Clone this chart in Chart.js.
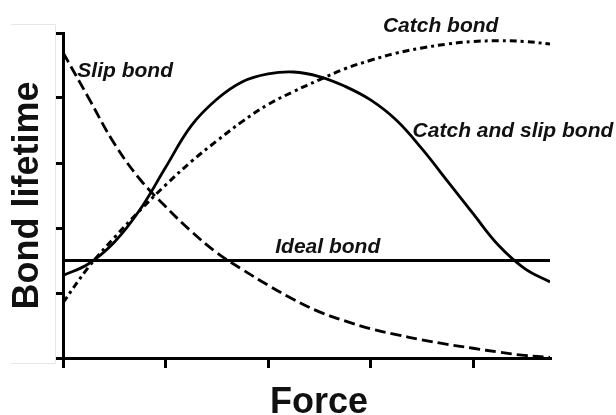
<!DOCTYPE html>
<html>
<head>
<meta charset="utf-8">
<script src="https://cdn.jsdelivr.net/npm/chart.js@4.4.1/dist/chart.umd.min.js"></script>
<style>
  html, body { margin: 0; padding: 0; background: #fff; }
  #wrap { width: 616px; height: 415px; }
</style>
</head>
<body>
<div id="wrap"><canvas id="myChart" width="616" height="415"></canvas></div>
<script>
// force values (x)
const force = [0, 0.25, 0.5, 0.75, 1, 1.25, 1.5, 1.75, 2, 2.25, 2.5, 2.75, 3, 3.25, 3.5, 3.75, 4, 4.25, 4.5, 4.75];

const slipBond = [4.7, 4.0, 3.3, 2.75, 2.33, 1.95, 1.62, 1.36, 1.12, 0.9, 0.71, 0.57, 0.45, 0.36, 0.28, 0.21, 0.15, 0.09, 0.04, 0.01];
const catchSlipBond = [1.27, 1.45, 1.78, 2.28, 2.93, 3.57, 3.98, 4.25, 4.37, 4.4, 4.33, 4.18, 3.97, 3.66, 3.22, 2.72, 2.22, 1.73, 1.38, 1.17];
const catchBond = [0.85, 1.4, 1.85, 2.27, 2.66, 3.02, 3.34, 3.64, 3.9, 4.1, 4.28, 4.45, 4.58, 4.69, 4.77, 4.83, 4.87, 4.88, 4.87, 4.83];
const idealBond = [1.5, 1.5];
const idealForce = [0, 4.75];

const xTicks = [0, 1, 2, 3, 4];
const yTicks = [0, 1, 2, 3, 4, 5];

// curve labels, anchored in data units (left edge, baseline)
const labelText = ['Slip bond', 'Catch bond', 'Catch and slip bond', 'Ideal bond'];
const labelX = [0.14, 3.12, 3.41, 2.07];
const labelY = [4.32, 5.02, 3.4, 1.62];

function pts(xs, ys) {
  return xs.map((x, i) => ({ x: x, y: ys[i] }));
}

const textPlugin = {
  id: 'curveText',
  beforeDraw(chart) {
    // faint frame left from the source image
    const c = chart.ctx;
    c.save();
    c.strokeStyle = '#e6e6e6';
    c.lineWidth = 1;
    c.beginPath();
    c.moveTo(11, 24.5); c.lineTo(55.5, 24.5); c.lineTo(55.5, 363.5); c.lineTo(11, 363.5);
    c.stroke();
    c.restore();
  },
  afterDraw(chart) {
    const c = chart.ctx;
    const xs = chart.scales.x, ys = chart.scales.y;
    c.save();
    c.fillStyle = '#111';
    c.textBaseline = 'alphabetic';
    c.textAlign = 'left';
    c.font = 'italic bold 21px "Liberation Sans", Arial, sans-serif';
    labelText.forEach((t, i) => {
      c.fillText(t, xs.getPixelForValue(labelX[i]), ys.getPixelForValue(labelY[i]));
    });
    c.font = 'bold 36px "Liberation Sans", Arial, sans-serif';
    c.textAlign = 'center';
    c.fillText('Force', 319, 413);
    c.restore();
  }
};

const ctx = document.getElementById('myChart').getContext('2d');

const chart_config = {
  type: 'line',
  data: {
    datasets: [
      {
        label: 'Slip bond',
        data: pts(force, slipBond),
        borderColor: '#000',
        borderWidth: 2.8,
        borderDash: [11, 5],
        tension: 0.4
      },
      {
        label: 'Catch and slip bond',
        data: pts(force, catchSlipBond),
        borderColor: '#000',
        borderWidth: 2.8,
        tension: 0.4
      },
      {
        label: 'Catch bond',
        data: pts(force, catchBond),
        borderColor: '#000',
        borderWidth: 3,
        borderDash: [7, 4, 3, 4],
        tension: 0.4
      },
      {
        label: 'Ideal bond',
        data: pts(idealForce, idealBond),
        borderColor: '#000',
        borderWidth: 2.8
      }
    ]
  },
  options: {
    responsive: false,
    animation: false,
    layout: { padding: { left: 0, top: 33, right: 66, bottom: 0 } },
    elements: { point: { radius: 0 } },
    plugins: {
      legend: { display: false },
      tooltip: { enabled: false }
    },
    scales: {
      x: {
        type: 'linear',
        min: 0,
        max: 4.75,
        afterFit(scale) { scale.height = 57; },
        afterBuildTicks(scale) { scale.ticks = xTicks.map(v => ({ value: v })); },
        ticks: { display: false },
        grid: { display: true, drawOnChartArea: false, drawTicks: true, tickLength: 10, lineWidth: 3, color: '#000' },
        border: { display: true, width: 3, color: '#000' },
        title: { display: false }
      },
      y: {
        min: 0,
        max: 5,
        afterFit(scale) { scale.width = 63; },
        afterBuildTicks(scale) { scale.ticks = yTicks.map(v => ({ value: v })); },
        ticks: { display: false },
        grid: { display: true, drawOnChartArea: false, drawTicks: true, tickLength: 7, lineWidth: 3, color: '#000' },
        border: { display: true, width: 3, color: '#000' },
        title: {
          display: true,
          text: 'Bond lifetime',
          color: '#111',
          font: { family: '"Liberation Sans", Arial, sans-serif', size: 36, weight: 'bold' },
          padding: { top: 6, bottom: 0 }
        }
      }
    }
  },
  plugins: [textPlugin]
};

const myChart = new Chart(ctx, chart_config);
</script>
</body>
</html>
